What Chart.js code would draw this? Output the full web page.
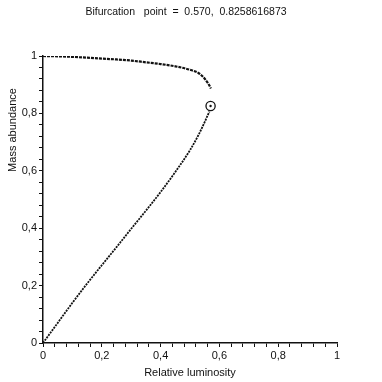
<!DOCTYPE html>
<html>
<head>
<meta charset="utf-8">
<script src="https://cdn.jsdelivr.net/npm/chart.js@4"></script>
<style>
  html, body { margin: 0; padding: 0; background: #fff; }
  canvas { display: block; }
</style>
</head>
<body>
<canvas id="bifChart" width="382" height="382"></canvas>
<script>
// upper (stable) branch
const upperX = [0, 0.05, 0.10, 0.15, 0.20, 0.25, 0.30, 0.35, 0.40, 0.45, 0.50, 0.53, 0.55, 0.56, 0.566, 0.571];
const upperY = [1.0, 0.999, 0.997, 0.994, 0.991, 0.988, 0.984, 0.978, 0.972, 0.964, 0.952, 0.940, 0.921, 0.907, 0.897, 0.887];

// lower (unstable) branch
const lowerX = [0, 0.05, 0.10, 0.15, 0.20, 0.25, 0.30, 0.35, 0.40, 0.45, 0.50, 0.53, 0.55, 0.56, 0.566];
const lowerY = [0, 0.070, 0.140, 0.207, 0.271, 0.334, 0.398, 0.461, 0.526, 0.596, 0.672, 0.727, 0.770, 0.793, 0.806];

// bifurcation point
const bifX = 0.570;
const bifY = 0.8258616873;

const xTickLabels = ['0', '0,2', '0,4', '0,6', '0,8', '1'];
const yTickLabels = ['0', '0,2', '0,4', '0,6', '0,8', '1'];

const FONT = '"Liberation Sans", Arial, Helvetica, sans-serif';

function pts(xs, ys) {
    return xs.map((x, i) => ({ x: x, y: ys[i] }));
}

function majorLabel(labels) {
    return function (v) {
        const k = Math.round(v * 100);
        if (k % 20 !== 0) return '';
        return labels[k / 20];
    };
}

// y axis title sits above the axis centre in the original
const yTitlePlugin = {
    id: 'yTitle',
    afterDraw(chart) {
        const ctx = chart.ctx;
        ctx.save();
        ctx.translate(13, 130);
        ctx.rotate(-Math.PI / 2);
        ctx.font = '11px ' + FONT;
        ctx.fillStyle = '#111';
        ctx.textAlign = 'center';
        ctx.textBaseline = 'middle';
        ctx.fillText('Mass abundance', 0, 0);
        ctx.restore();
    }
};

const ctx = document.getElementById('bifChart').getContext('2d');
new Chart(ctx, {
    type: 'scatter',
    data: {
        datasets: [
            {
                // centre dot of the marker, drawn on top
                data: [{ x: bifX, y: bifY }],
                pointRadius: 1.2,
                pointBorderWidth: 0,
                pointBackgroundColor: '#111'
            },
            {
                data: [{ x: bifX, y: bifY }],
                pointRadius: 4.6,
                pointBorderWidth: 1.3,
                pointBorderColor: '#111',
                pointBackgroundColor: '#fff'
            },
            {
                data: pts(upperX, upperY),
                showLine: true,
                borderColor: '#111',
                borderWidth: 2.2,
                borderDash: [3, 1],
                cubicInterpolationMode: 'monotone',
                pointRadius: 0
            },
            {
                data: pts(lowerX, lowerY),
                showLine: true,
                borderColor: '#111',
                borderWidth: 1.8,
                borderDash: [2, 1],
                cubicInterpolationMode: 'monotone',
                pointRadius: 0
            }
        ]
    },
    options: {
        responsive: false,
        animation: false,
        layout: { padding: { left: 0, right: 10, top: 0, bottom: 0 } },
        plugins: {
            legend: { display: false },
            tooltip: { enabled: false },
            title: {
                display: true,
                text: 'Bifurcation   point  =  0.570,  0.8258616873',
                color: '#111',
                font: { family: FONT, size: 10.5, weight: 'normal' },
                padding: { top: 6, bottom: 37.4 }
            }
        },
        scales: {
            x: {
                type: 'linear',
                min: 0,
                max: 1,
                afterFit: s => { s.height = 39; },
                border: { display: true, color: '#111', width: 1.5 },
                grid: { display: true, drawOnChartArea: false, drawTicks: true, tickLength: 4, color: '#111', lineWidth: 1 },
                ticks: {
                    stepSize: 0.04,
                    autoSkip: false,
                    maxRotation: 0,
                    padding: 2,
                    color: '#111',
                    font: { family: FONT, size: 11 },
                    callback: majorLabel(xTickLabels)
                },
                title: {
                    display: true,
                    text: 'Relative luminosity',
                    color: '#111',
                    font: { family: FONT, size: 11 },
                    padding: 2.4
                }
            },
            y: {
                type: 'linear',
                min: 0,
                max: 1,
                afterFit: s => { s.width = 43; },
                border: { display: true, color: '#111', width: 1.5 },
                grid: { display: true, drawOnChartArea: false, drawTicks: true, tickLength: 4, color: '#111', lineWidth: 1 },
                ticks: {
                    stepSize: 0.04,
                    autoSkip: false,
                    padding: 2,
                    color: '#111',
                    font: { family: FONT, size: 11 },
                    callback: majorLabel(yTickLabels)
                }
            },
            // empty right-hand strip so the plot ends at x = 1 like the original
            yr: {
                type: 'linear',
                position: 'right',
                min: 0,
                max: 1,
                afterFit: s => { s.width = 35; },
                border: { display: false },
                grid: { display: false },
                ticks: { display: false }
            }
        }
    },
    plugins: [yTitlePlugin]
});
</script>
</body>
</html>
